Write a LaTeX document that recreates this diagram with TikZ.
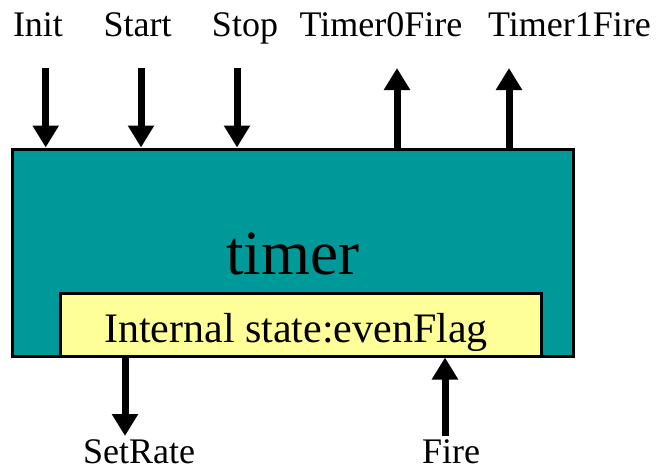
\documentclass[tikz,border=0pt]{standalone}
\usepackage{fontspec}
\setmainfont{Liberation Serif}
\usetikzlibrary{arrows.meta,positioning}
\definecolor{TimerTeal}{RGB}{0,153,153}
\definecolor{StateYellow}{RGB}{255,255,153}

\begin{document}
\begin{tikzpicture}[x=1pt,y=-1pt,
    sig/.style={font=\fontsize{36}{40}\selectfont,anchor=base,inner sep=0pt},
    flow/.style={line width=7pt,-{Triangle[width=25pt,length=22pt]}}]
  \useasboundingbox (0,0) rectangle (657,469);
  % timer module
  \node[draw,line width=3pt,fill=TimerTeal,minimum width=561pt,
        minimum height=207pt,inner sep=0pt] (timer) at (292.5,252.5) {};
  \node[font=\fontsize{63}{70}\selectfont,anchor=base,inner sep=0pt]
    (timerlbl) at (292.5,274) {timer};
  % internal state
  \node[draw,line width=3pt,fill=StateYellow,minimum width=481pt,
        minimum height=63pt,inner sep=0pt] (state) at (301.3,324.5) {};
  \node[font=\fontsize{42}{46}\selectfont,anchor=base,inner sep=0pt]
    (statelbl) at (296,342) {Internal state:evenFlag};
  % signal names
  \node[sig] (init) at (38,36) {Init};
  \node[sig] (start) at (137.5,36) {Start};
  \node[sig] (stop) at (245,36) {Stop};
  \node[sig] (fire0) at (381,36) {Timer0Fire};
  \node[sig] (fire1) at (569.5,36) {Timer1Fire};
  \node[sig] (setrate) at (139,463.5) {SetRate};
  \node[sig] (fire) at (451,463.5) {Fire};
  % free arrow ends
  \coordinate (initEnd) at (45.7,68);
  \coordinate (startEnd) at (141,68);
  \coordinate (stopEnd) at (237,68);
  \coordinate (fire0End) at (397,68);
  \coordinate (fire1End) at (509,68);
  \coordinate (setrateEnd) at (125,436);
  \coordinate (fireEnd) at (445,436);
  % inputs and outputs
  \draw[flow] (initEnd) -- (initEnd |- timer.north);
  \draw[flow] (startEnd) -- (startEnd |- timer.north);
  \draw[flow] (stopEnd) -- (stopEnd |- timer.north);
  \draw[flow] (fire0End |- timer.north) -- (fire0End);
  \draw[flow] (fire1End |- timer.north) -- (fire1End);
  \draw[flow] (setrateEnd |- state.south) -- (setrateEnd);
  \draw[flow] (fireEnd) -- (fireEnd |- state.south);
\end{tikzpicture}
\end{document}
